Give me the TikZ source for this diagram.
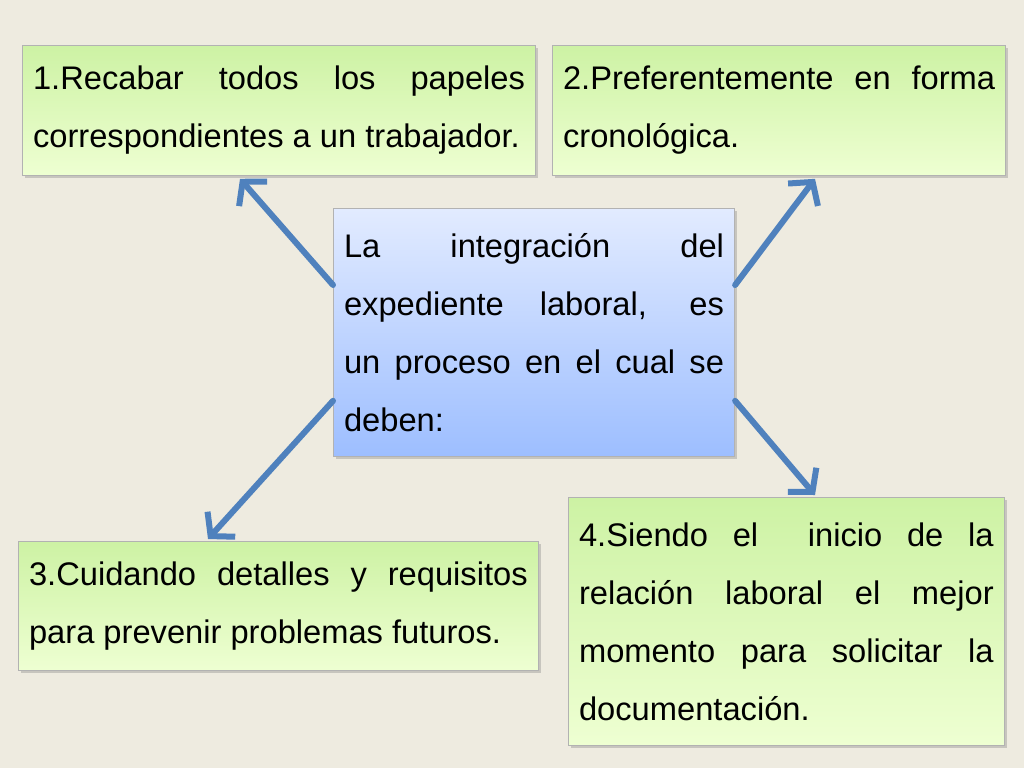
\documentclass[tikz,border=0pt]{standalone}
\usepackage{fontspec}
\setmainfont{Liberation Sans}
\usetikzlibrary{arrows.meta,shadows,calc}
\definecolor{bgpaper}{HTML}{EEEBE0}
\definecolor{arrowblue}{HTML}{4F81BD}
\definecolor{greentop}{HTML}{CDF2A4}
\definecolor{greenbot}{HTML}{EEFFD2}
\definecolor{bluetop}{HTML}{E2EBFF}
\definecolor{bluebot}{HTML}{9DBEFF}
\tikzset{
	greenbox/.style={draw=black!30, line width=0.6pt, top color=greentop, bottom color=greenbot,
		drop shadow={opacity=0.35, shadow xshift=2pt, shadow yshift=-2pt},
		anchor=north west, inner xsep=8pt, inner ysep=6pt, align=justify,
		font={\fontsize{24.5}{43.5}\selectfont\hyphenpenalty=10000\exhyphenpenalty=10000}},
	bluebox/.style={greenbox, top color=bluetop, bottom color=bluebot},
	bigarrow/.style={arrowblue, line width=4.5pt, line cap=round,
		-{Straight Barb[length=12pt, width=28pt, line width=4.5pt]}},
}
\begin{document}
\begin{tikzpicture}[x=0.75pt,y=0.75pt,yscale=-1,xscale=1]
	\fill[bgpaper] (0,0) rectangle (1024,768);
	\useasboundingbox (0,0) rectangle (1024,768);

	% boxes
	\node[greenbox, text width=369pt, minimum width=383pt, minimum height=97.5pt] (recabar) at (22,45)
		{1.Recabar todos los papeles correspondientes a un trabajador.};
	\node[greenbox, text width=324pt, minimum width=338pt, minimum height=97.5pt] (crono) at (552,45)
		{2.Preferentemente en forma cronológica.};
	\node[bluebox, text width=285pt, minimum width=299pt, minimum height=186pt] (centro) at (333,208)
		{La integración del expediente laboral, es un proceso en el cual se deben:};
	\node[greenbox, text width=374pt, minimum width=388pt, minimum height=97pt] (cuidando) at (18,541)
		{3.Cuidando detalles y requisitos para prevenir problemas futuros.};
	\node[greenbox, text width=311pt, minimum width=325pt, minimum height=186pt] (siendo) at (568,497)
		{4.Siendo el\ \ inicio de la relación laboral el mejor momento para solicitar la documentación.};

	% arrows
	\draw[bigarrow] ([shift={(0,77)}]centro.north west) -- ([shift={(218,3)}]recabar.south west);
	\draw[bigarrow] ([shift={(0,77)}]centro.north east) -- ([shift={(263,3)}]crono.south west);
	\draw[bigarrow] ([shift={(0,-56)}]centro.south west) -- ([shift={(190,-2)}]cuidando.north west);
	\draw[bigarrow] ([shift={(0,-56)}]centro.south east) -- ([shift={(247,-2)}]siendo.north west);
\end{tikzpicture}
\end{document}
